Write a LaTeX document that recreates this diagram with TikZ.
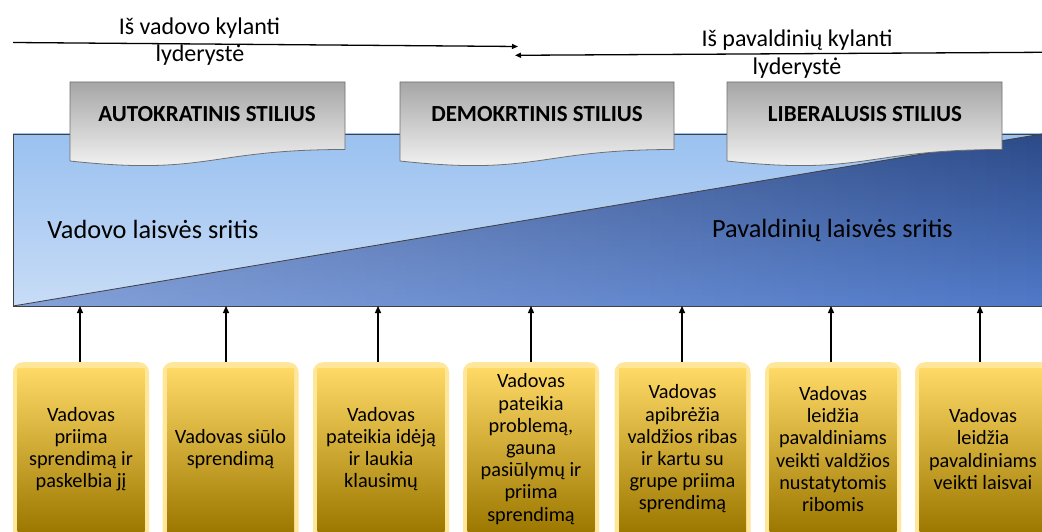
\documentclass[tikz,border=0pt]{standalone}
\usepackage{fontspec}
\setmainfont{Carlito}
\usetikzlibrary{arrows.meta,fadings}
\definecolor{lbTop}{HTML}{9AC1F0}
\definecolor{lbBot}{HTML}{C8DCF6}
\definecolor{triLight}{HTML}{5079C8}
\definecolor{triMid}{HTML}{4470BF}
\definecolor{triDark}{HTML}{2C4A88}
\definecolor{docTop}{HTML}{A6A6A6}
\definecolor{docBot}{HTML}{FAFAFA}
\definecolor{docLine}{HTML}{6F6F6F}
\definecolor{glow}{HTML}{FFE699}
\definecolor{yTop}{HTML}{FFD966}
\definecolor{yMid}{HTML}{FFC000}
\definecolor{yBot}{HTML}{9C7800}
\newcommand\mydocbox[5]{%
  \path[docshape] (#1,82) -- (#2,82) -- (#2,149.5)
    .. controls ({(#1+#2)/2},149.5) and ({(#1+#2)/2},176) .. (#1,161) -- cycle;
  \node[doctext] (#3) at (#4,121.7) {#5};
}
\newcommand\myybox[4]{%
  \node[yout] (#1) at (#2,362) {};
  \node[yin] (#1i) at (#2,368) {};
  \node[ytext] (#1t) at (#2,449) {#4};
  \draw[uparrow] (#3,362) -- (#3,306);
}
\begin{document}
\begin{tikzpicture}[x=1pt,y=-1pt,
  docshape/.style={draw=docLine, line width=0.8pt, top color=docTop, bottom color=docBot},
  doctext/.style={anchor=base, font=\fontsize{23}{26}\selectfont\bfseries, inner sep=0pt},
  yout/.style={anchor=north, fill=glow, rounded corners=10pt, minimum width=136pt, minimum height=190pt, inner sep=0pt},
  yin/.style={anchor=north, top color=yTop, middle color=yMid, bottom color=yBot, minimum width=127pt, minimum height=164pt, inner sep=0pt},
  ytext/.style={align=center, font=\fontsize{20.3}{22.2}\selectfont, inner sep=0pt},
  uparrow/.style={-{Triangle[length=7pt,width=6pt]}, line width=1.3pt},
  toparrow/.style={-{Triangle[length=6pt,width=5pt]}, line width=1.3pt},
  toptext/.style={anchor=base, font=\fontsize{24}{28}\selectfont, inner sep=0pt},
  regtext/.style={anchor=base, font=\fontsize{26.3}{30}\selectfont, inner sep=0pt},
  mainline/.style={draw=black!75, line width=0.8pt}]
\useasboundingbox (0,0) rectangle (1042,532);
\clip (0,0) rectangle (1042,532);
\fill[white] (0,0) rectangle (1042,532);
% top arrows
\coordinate (l1s) at (13,42.5);
\coordinate (l1e) at (518,46.5);
\coordinate (l2s) at (1042,52.3);
\coordinate (l2e) at (515,55.3);
\draw[toparrow] (l1s) -- (l1e);
\draw[toparrow] (l2s) -- (l2e);
\node[toptext] (t1a) at (199.5,34.3) {Iš vadovo kylanti};
\node[toptext] (t1b) at (200,61.7) {lyderystė};
\node[toptext] (t2a) at (797,46.7) {Iš pavaldinių kylanti};
\node[toptext] (t2b) at (797,75) {lyderystė};
% main area
\fill[top color=lbTop, bottom color=lbBot] (13,134) rectangle (1042,306);
\shade[top color=triDark, middle color=triMid, bottom color=triLight]
  (13,306) -- (1042,134) -- (1042,306) -- cycle;
\fill[white, opacity=0.3, path fading=east]
  (13,306) -- (1042,134) -- (1042,306) -- cycle;
\draw[mainline] (13,134) rectangle (1042,306);
\draw[mainline] (13,306) -- (1042,134);
\node[regtext] (r1) at (153,238) {Vadovo laisvės sritis};
\node[regtext] (r2) at (832.5,237) {Pavaldinių laisvės sritis};
% style boxes
\mydocbox{70}{345}{s1}{207}{AUTOKRATINIS STILIUS}
\mydocbox{400}{674}{s2}{537}{DEMOKRTINIS STILIUS}
\mydocbox{727}{1002}{s3}{865}{LIBERALUSIS STILIUS}
% yellow boxes
\myybox{b1}{81}{80}{Vadovas\\priima\\sprendimą ir\\paskelbia jį}
\myybox{b2}{230.5}{226}{Vadovas siūlo\\sprendimą}
\myybox{b3}{381}{378}{Vadovas\\pateikia idėją\\ir laukia\\klausimų}
\myybox{b4}{531}{531}{Vadovas\\pateikia\\problemą,\\gauna\\pasiūlymų ir\\priima\\sprendimą}
\myybox{b5}{682.5}{682}{Vadovas\\apibrėžia\\valdžios ribas\\ir kartu su\\grupe priima\\sprendimą}
\myybox{b6}{833}{831}{Vadovas\\leidžia\\pavaldiniams\\veikti valdžios\\nustatytomis\\ribomis}
\myybox{b7}{983}{980}{Vadovas\\leidžia\\pavaldiniams\\veikti laisvai}
\end{tikzpicture}
\end{document}
